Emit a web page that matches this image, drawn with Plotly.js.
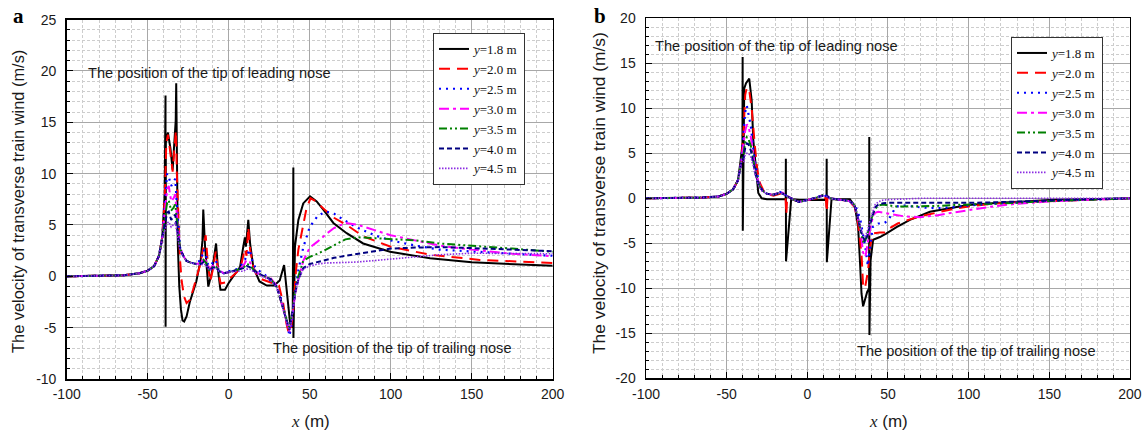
<!DOCTYPE html>
<html>
<head>
<meta charset="utf-8">
<script src="https://cdn.plot.ly/plotly-3.0.1.min.js"></script>
<style>html,body{margin:0;padding:0;background:#fff;}#chart{width:1146px;height:434px;}</style>
</head>
<body>
<div id="chart"></div>
<script>
// ---------- tick labels ----------
const xTickVals = [-100, -50, 0, 50, 100, 150, 200];
const xTickText = ['-100', '-50', '0', '50', '100', '150', '200'];
const yTickValsA = [-10, -5, 0, 5, 10, 15, 20, 25];
const yTickTextA = ['-10', '-5', '0', '5', '10', '15', '20', '25'];
const yTickValsB = [-20, -15, -10, -5, 0, 5, 10, 15, 20];
const yTickTextB = ['-20', '-15', '-10', '-5', '0', '5', '10', '15', '20'];

const seriesNames = ['1.8', '2.0', '2.5', '3.0', '3.5', '4.0', '4.5'];

// ---------- panel a ----------
const xBlackA = [-100,-80,-65,-55,-50,-46,-43,-41,-39.5,-39.0,-38.95,-38.8,-37.5,-36,-34.6,-33.5,-32.7,-32.4,-32.0,-31.4,-30.5,-29.5,-28.5,-27.5,-26,-24,-20,-17.3,-16.2,-15.7,-14.6,-12.6,-10.5,-7.8,-6.4,-5.1,-2.3,-0.2,2.8,7,9,10,10.6,12.1,13.2,15.2,19,23.5,28,31.5,34.2,36,37.8,39.5,39.9,39.95,40.9,43,46,50.2,54.3,58.4,64.6,72.8,83,99.6,124.3,150,175.7,200];
const yBlackA = [0,0.02,0.1,0.3,0.55,1.0,2.0,3.8,8.0,17.6,-4.9,13.0,14.0,12.5,10.4,13.5,15.2,18.8,8.5,3.0,-1.0,-3.2,-4.3,-4.4,-3.9,-2.5,-0.5,1.6,3.5,6.5,2.9,-1.0,0.3,3.2,0.3,-1.3,-1.3,-0.7,0,0.9,2.9,3.8,2.9,5.5,3.2,0.9,-0.5,-0.9,-0.9,-0.4,1.1,-1.5,-4.4,-5.0,10.6,-6.0,2.9,5.5,7.1,7.8,7.3,6.5,5.2,4.2,3.2,2.4,1.75,1.36,1.17,1.03];

const xRedA = [-100,-80,-65,-55,-50,-46,-43,-41,-39.5,-38.5,-37.5,-36,-34.6,-33.5,-32.6,-32,-31,-30,-29,-27.5,-26,-24,-22,-20,-17.5,-16,-15,-14.2,-13,-11.5,-10,-8,-6.5,-5,-2,1,5,8,10,11,12.1,13.2,15.5,19,24,28,31,33.5,35.5,37,38.5,40,41.5,43,46,48,50.5,54,58.4,65,72.8,83,99.6,124.3,155,200];
const yRedA = [0,0.02,0.1,0.3,0.55,1.0,2.0,3.8,7.5,13.0,13.8,12.0,10.2,12.5,14.2,10,5,1.5,-0.5,-2.0,-2.6,-2.3,-1.3,-0.2,1.2,2.5,3.4,4.0,1.5,-0.5,0.5,2.4,0.5,-0.7,-0.6,-0.2,0.4,1.3,2.7,2.0,4.8,2.6,0.6,-0.2,-0.5,-0.7,-0.9,-2.5,-4.5,-5.5,-5.0,-3.0,0.5,2.6,5.0,6.6,7.6,7.3,6.6,5.7,5.0,3.9,2.9,2.1,1.6,1.3];

const xGridA = [-100,-80,-65,-55,-50,-46,-43,-41,-39.5,-38,-37,-35.5,-34,-33,-32,-31,-30,-28,-26,-23,-20,-17,-15.5,-14,-12,-10,-8,-6,-3,0,5,9,11,13,15,18,22,26,29.5,32,34,36,37.5,39,41,43,46,50,55,60,65,72,80,90,100,115,130,150,175,200];
const yBlueA = [0,0.02,0.1,0.3,0.55,1.0,2.0,3.8,7.0,10.0,9.7,8.8,9.2,9.5,7.0,4.5,2.8,2.0,1.5,1.3,1.3,1.6,2.6,2.0,0.6,1.3,1.6,0.5,0.3,0.5,0.7,1.3,2.0,2.6,1.2,0.6,0.2,-0.4,-1.0,-2.0,-3.2,-4.5,-5.8,-4.5,-1.5,0.6,2.8,4.8,5.9,6.3,6.1,5.4,4.7,4.0,3.5,3.0,2.6,2.4,2.2,2.0];
const yMagentaA = [0,0.02,0.1,0.3,0.55,1.0,2.0,3.8,6.5,8.5,8.8,7.3,7.6,8.0,6.0,4.0,2.8,2.0,1.5,1.3,1.2,1.3,1.8,1.5,0.7,1.0,1.2,0.6,0.3,0.4,0.6,1.0,1.6,1.4,0.8,0.3,0.0,-0.2,-0.9,-2.3,-3.5,-4.6,-5.4,-4.0,-1.8,-0.3,1.5,2.8,3.4,4.1,4.7,5.2,5.0,4.5,4.0,3.5,3.0,2.6,2.2,1.95];
const yGreenA = [0,0.02,0.1,0.3,0.55,1.0,2.0,3.8,5.8,7.2,7.4,6.4,6.7,7.0,5.5,3.8,2.7,2.0,1.5,1.3,1.2,1.3,1.6,1.3,0.6,0.9,1.0,0.5,0.3,0.4,0.6,0.8,1.2,1.1,0.7,0.3,0.0,-0.3,-1.0,-2.2,-3.3,-4.4,-5.0,-3.8,-1.5,0.0,1.5,1.9,2.2,2.6,3.0,3.6,3.8,3.7,3.6,3.5,3.2,3.0,2.7,2.4];
const yNavyA = [0,0.02,0.1,0.3,0.55,1.0,2.0,3.8,5.0,6.2,6.3,5.5,5.8,6.0,4.8,3.5,2.6,2.0,1.5,1.3,1.2,1.2,1.4,1.2,0.6,0.8,0.9,0.5,0.3,0.4,0.6,0.8,1.0,0.9,0.6,0.3,0.0,-0.3,-1.0,-2.2,-3.4,-4.5,-5.2,-3.8,-1.6,-0.3,0.8,1.2,1.4,1.6,1.8,2.0,2.2,2.5,2.7,2.8,2.85,2.75,2.6,2.45];
const yPurpleA = [0,0.02,0.1,0.3,0.55,1.0,2.0,3.8,4.4,5.2,5.3,4.8,5.0,5.2,4.3,3.3,2.5,1.9,1.5,1.3,1.2,1.1,1.2,1.1,0.6,0.7,0.8,0.5,0.3,0.4,0.5,0.5,0.7,0.7,0.5,0.2,-0.1,-0.4,-1.0,-2.2,-3.4,-4.6,-5.5,-4.0,-1.8,-0.3,0.7,1.0,1.2,1.3,1.3,1.35,1.4,1.55,1.7,1.9,2.1,2.25,2.25,2.2];

// ---------- panel b ----------
const xBlackB = [-100,-80,-65,-55,-50,-46,-43,-41.5,-40.2,-40.1,-40.0,-39.1,-38,-36,-34.5,-33.5,-31.4,-30.4,-28.3,-25,-20,-15,-13.4,-13.3,-13.2,-10,-5,0,5,10,11.9,12.0,12.1,15,20,26.4,29.5,31.5,32.6,33.6,34.6,35.7,37.1,38.3,38.4,38.5,39.2,40.8,45,49.1,55.3,63.6,76,88.3,99.7,119,150,175,200];
const yBlackB = [0,0.02,0.08,0.2,0.5,1.0,2.0,4.0,6.0,15.7,-3.6,12.2,12.8,13.3,10.9,6.5,2.0,0.6,0,-0.1,-0.1,-0.1,-0.1,4.4,-7.0,-0.1,-0.2,-0.2,-0.2,-0.2,-0.2,4.4,-7.1,-0.1,-0.1,-0.1,-0.9,-3.2,-6.9,-10.6,-12.0,-11.3,-10.4,-10.0,6.8,-15.2,-6.9,-4.6,-4.3,-3.9,-3.2,-2.4,-1.5,-1.1,-0.74,-0.5,-0.2,-0.1,0];

const xRedB = [-100,-80,-65,-55,-50,-46,-43,-41,-39.5,-38.5,-37.5,-36,-34.5,-32.5,-31,-29.4,-27,-25,-21,-17,-15,-13.5,-13,-12.5,-11,-8,-5,-2,2,6,10,11.5,12,12.5,14,18,22,26,29.5,31.5,33.6,34.6,35.7,37.7,38.8,40.8,45,48.1,51.2,56,62.6,69.8,80,90,100,115,130,150,175,200];
const yRedB = [0,0.02,0.08,0.2,0.5,1.0,2.0,4.0,7.5,11.5,12.3,12.0,10.0,5.8,3.2,1.7,0.8,0.5,0.3,0.5,0.4,0.1,-1.8,0.1,0.1,-0.2,-0.4,-0.3,-0.1,0,0.1,0,-1.5,0,0,-0.1,-0.2,-0.3,-1.0,-2.8,-6.2,-9.8,-10.0,-8.0,-5.4,-3.9,-3.8,-3.8,-3.3,-2.8,-2.4,-2.0,-1.6,-1.2,-0.9,-0.6,-0.45,-0.3,-0.15,0];

const xGridB = [-100,-80,-65,-55,-50,-46,-43,-41,-39.5,-38.5,-37.5,-36.5,-35,-33.5,-32,-30,-28,-25,-21,-17,-15,-13,-11,-8,-5,-2,2,6,10,12,14,18,22,26,29,31,33,34.5,36,37.5,39,40.5,42,44,47,50,55,60,70,80,90,100,115,130,150,175,200];
const yBlueB = [0,0.02,0.08,0.2,0.5,1.0,2.0,4.0,7.0,9.6,10.3,9.5,8.0,5.5,3.5,1.8,0.9,0.5,0.4,0.7,0.6,0.3,0.1,-0.2,-0.4,-0.3,-0.1,0.1,0.4,0.2,0.0,-0.1,-0.2,-0.3,-0.7,-1.3,-2.5,-3.8,-5.5,-7.5,-5.0,-3.2,-3.0,-2.8,-2.8,-2.5,-0.9,-0.8,-1.0,-1.1,-1.0,-0.8,-0.6,-0.45,-0.3,-0.15,0];
const yMagentaB = [0,0.02,0.08,0.2,0.5,1.0,2.0,4.0,6.0,7.5,8.2,8.0,6.8,4.8,3.0,1.6,0.9,0.5,0.4,0.7,0.6,0.3,0.1,-0.2,-0.4,-0.3,-0.1,0.1,0.4,0.3,0.0,-0.1,-0.2,-0.3,-0.8,-2.0,-3.5,-6.0,-6.5,-4.8,-3.3,-2.2,-1.6,-1.5,-1.6,-1.7,-1.8,-2.0,-2.1,-1.9,-1.6,-1.3,-0.9,-0.6,-0.35,-0.15,0];
const yGreenB = [0,0.02,0.08,0.2,0.5,1.0,2.0,4.0,5.0,6.3,6.8,6.6,5.8,4.3,2.8,1.5,0.9,0.5,0.4,0.6,0.5,0.3,0.1,-0.2,-0.4,-0.3,-0.1,0.1,0.4,0.3,0.0,-0.1,-0.2,-0.3,-0.7,-1.8,-3.5,-4.8,-4.7,-3.8,-2.7,-1.8,-1.2,-0.8,-0.7,-0.8,-0.9,-0.9,-0.9,-0.85,-0.75,-0.7,-0.6,-0.5,-0.3,-0.15,0];
const yNavyB = [0,0.02,0.08,0.2,0.5,1.0,2.0,4.0,4.5,5.6,6.1,6.0,5.3,4.0,2.6,1.4,0.9,0.5,0.4,0.6,0.5,0.3,0.1,-0.2,-0.4,-0.3,-0.1,0.1,0.3,0.3,0.0,-0.1,-0.2,-0.3,-0.7,-1.8,-3.5,-4.3,-4.8,-4.0,-2.8,-1.8,-1.0,-0.7,-0.55,-0.5,-0.5,-0.5,-0.5,-0.55,-0.55,-0.5,-0.45,-0.35,-0.2,-0.1,0];
const yPurpleB = [0,0.02,0.08,0.2,0.5,1.0,2.0,4.0,4.0,4.8,5.0,5.0,4.6,3.6,2.4,1.3,0.8,0.5,0.4,0.6,0.5,0.3,0.1,-0.2,-0.4,-0.3,-0.1,0.1,0.3,0.2,0.0,-0.1,-0.2,-0.3,-0.7,-1.7,-3.2,-4.0,-4.2,-3.5,-2.4,-1.4,-0.7,-0.4,-0.2,-0.15,-0.1,-0.05,0,0,0,0,0,0,0,0,0];

// ---------- styles ----------
const styles = [
  {color: '#000000', width: 2, dash: 'solid'},
  {color: '#ff0000', width: 2, dash: '11px,7px'},
  {color: '#0000ff', width: 2.2, dash: '2px,5px'},
  {color: '#ff00ff', width: 2, dash: '10px,4px,3px,4px'},
  {color: '#008000', width: 2, dash: '8px,3px,2px,3px,2px,3px'},
  {color: '#000080', width: 2, dash: '5px,3px'},
  {color: '#8a2be2', width: 1.6, dash: '1.5px,1.5px'}
];

const panelA = [[xBlackA, yBlackA], [xRedA, yRedA], [xGridA, yBlueA], [xGridA, yMagentaA], [xGridA, yGreenA], [xGridA, yNavyA], [xGridA, yPurpleA]];
const panelB = [[xBlackB, yBlackB], [xRedB, yRedB], [xGridB, yBlueB], [xGridB, yMagentaB], [xGridB, yGreenB], [xGridB, yNavyB], [xGridB, yPurpleB]];

const traces = [];
panelA.forEach((p, i) => traces.push({
  x: p[0], y: p[1], type: 'scatter', mode: 'lines', xaxis: 'x', yaxis: 'y',
  name: '<i>y</i>=' + seriesNames[i] + ' m', legend: 'legend',
  line: {color: styles[i].color, width: styles[i].width, dash: styles[i].dash}
}));
panelB.forEach((p, i) => traces.push({
  x: p[0], y: p[1], type: 'scatter', mode: 'lines', xaxis: 'x2', yaxis: 'y2',
  name: '<i>y</i>=' + seriesNames[i] + ' m', legend: 'legend2',
  line: {color: styles[i].color, width: styles[i].width, dash: styles[i].dash}
}));

const SANS = 'Liberation Sans, Arial, sans-serif';
const SERIF = 'Liberation Serif, Times New Roman, serif';

function xAxis(domain, anchor) {
  return {
    domain: domain, anchor: anchor, range: [-100, 200], autorange: false,
    tickmode: 'array', tickvals: xTickVals, ticktext: xTickText,
    ticks: 'inside', ticklen: 6, tickwidth: 1, tickcolor: '#000',
    showline: true, linecolor: '#000', linewidth: 1.5, mirror: true,
    showgrid: true, gridcolor: '#a8a8a8', gridwidth: 1, zeroline: false,
    minor: {dtick: 10, tick0: 0, ticks: 'inside', ticklen: 3, tickcolor: '#000', showgrid: true, gridcolor: '#cdcdcd', griddash: '3px,2px', gridwidth: 1},
    tickfont: {family: SANS, size: 14, color: '#1a1a1a'}, ticklabelstandoff: 2
  };
}
function yAxis(domain, anchor, range, vals, text) {
  return {
    domain: domain, anchor: anchor, range: range, autorange: false,
    tickmode: 'array', tickvals: vals, ticktext: text,
    ticks: 'inside', ticklen: 6, tickwidth: 1, tickcolor: '#000',
    showline: true, linecolor: '#000', linewidth: 1.5, mirror: true,
    showgrid: true, gridcolor: '#a8a8a8', gridwidth: 1, zeroline: false,
    minor: {dtick: 1, tick0: 0, ticks: 'inside', ticklen: 3, tickcolor: '#000', showgrid: true, gridcolor: '#cdcdcd', griddash: '3px,2px', gridwidth: 1},
    tickfont: {family: SANS, size: 14, color: '#1a1a1a'}, ticklabelstandoff: 6
  };
}

const noteFont = {family: SANS, size: 14.6, color: '#1a1a1a'};
const yTitle = 'The velocity of transverse train wind (m/s)';
const xTitle = '<span style="font-family:Liberation Serif;font-style:italic">x</span> (m)';

function note(text, px, py, font, extra) {
  return Object.assign({
    text: text, x: px / 1146, y: 1 - py / 434, xref: 'paper', yref: 'paper',
    xanchor: 'center', yanchor: 'middle', showarrow: false, font: font
  }, extra || {});
}

const layout = {
  width: 1146, height: 434,
  margin: {l: 0, r: 0, t: 0, b: 0},
  paper_bgcolor: '#ffffff', plot_bgcolor: '#ffffff',
  showlegend: true,
  xaxis: xAxis([0.0582, 0.4823], 'y'),
  yaxis: yAxis([0.1267, 0.9548], 'x', [-10, 25], yTickValsA, yTickTextA),
  xaxis2: xAxis([0.5637, 0.9860], 'y2'),
  yaxis2: yAxis([0.1283, 0.9578], 'x2', [-20, 20], yTickValsB, yTickTextB),
  legend: {
    x: 433 / 1146, y: 1 - 33 / 434, xanchor: 'left', yanchor: 'top',
    bgcolor: '#ffffff', bordercolor: '#333', borderwidth: 1,
    font: {family: SERIF, size: 13, color: '#111'}, tracegroupgap: 0, itemclick: false
  },
  legend2: {
    x: 1011 / 1146, y: 1 - 37 / 434, xanchor: 'left', yanchor: 'top',
    bgcolor: '#ffffff', bordercolor: '#333', borderwidth: 1,
    font: {family: SERIF, size: 13, color: '#111'}, tracegroupgap: 0, itemclick: false
  },
  annotations: [
    note('<b>a</b>', 18, 16, {family: SERIF, size: 21, color: '#000'}),
    note('<b>b</b>', 600, 16, {family: SERIF, size: 21, color: '#000'}),
    note(yTitle, 18, 202, {family: SANS, size: 16.4, color: '#1a1a1a'}, {textangle: -90}),
    note(yTitle, 599, 193, {family: SANS, size: 17.4, color: '#1a1a1a'}, {textangle: -90}),
    note(xTitle, 310, 421, {family: SANS, size: 17, color: '#1a1a1a'}),
    note(xTitle, 888, 421, {family: SANS, size: 17, color: '#1a1a1a'}),
    note('The position of the tip of leading nose', 209, 73, noteFont),
    note('The position of the tip of trailing nose', 392, 348, noteFont),
    note('The position of the tip of leading nose', 776, 46, noteFont),
    note('The position of the tip of trailing nose', 976, 351, noteFont)
  ]
};

Plotly.newPlot('chart', traces, layout, {displayModeBar: false, staticPlot: true});
</script>
</body>
</html>
